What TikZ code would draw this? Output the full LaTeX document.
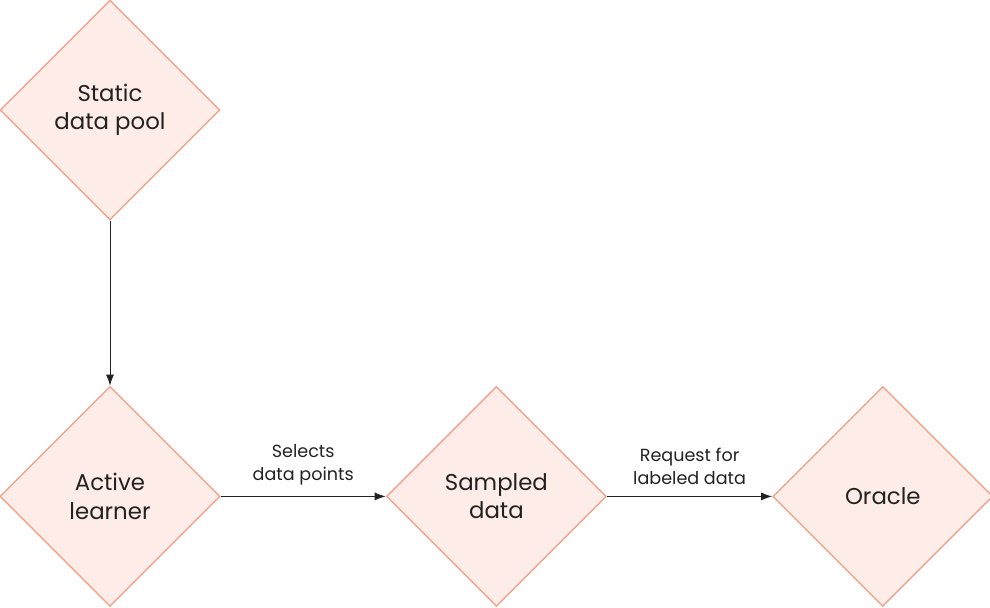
\documentclass[tikz,border=0pt]{standalone}
\usepackage{fontspec}
\setmainfont{Poppins}
\usepackage{tikz}
\usetikzlibrary{positioning}
\usetikzlibrary{shapes.geometric}
\usetikzlibrary{arrows.meta}
\usepackage{xcolor}
\definecolor{salmon}{HTML}{F2A58E}
\definecolor{blush}{HTML}{FDECE7}
\definecolor{ink}{HTML}{222222}

\begin{document}
\begin{tikzpicture}[
  font=\fontsize{13}{16}\selectfont,
  stage/.style={diamond, draw=salmon, fill=blush, line width=0.8pt, align=center,
    inner sep=0pt, minimum width=4.4cm, minimum height=4.4cm, text=ink},
  arrow/.style={-{Latex[length=2.2mm, width=1.6mm]}, ink, line width=0.5pt},
  note/.style={font=\fontsize{10}{13}\selectfont, align=center, text=ink}
]

% --- Canvas ------------------------------------------------------------------
\useasboundingbox (0,0) rectangle (19.8,-12.16);

% --- Stages ------------------------------------------------------------------
\node[stage] (pool) at (2.2,-2.2) {Static\\data pool};
\node[stage, below=3.3cm of pool] (learner) {Active\\learner};
\node[stage, right=3.3cm of learner] (sampled) {Sampled\\data};
\node[stage, right=3.3cm of sampled] (oracle) {Oracle};

% --- Flow --------------------------------------------------------------------
\draw[arrow] (pool) -- (learner);
\draw[arrow] (learner) -- node[note, above=3pt]{Selects\\data points} (sampled);
\draw[arrow] (sampled) -- node[note, above=3pt]{Request for\\labeled data} (oracle);

\end{tikzpicture}
\end{document}
